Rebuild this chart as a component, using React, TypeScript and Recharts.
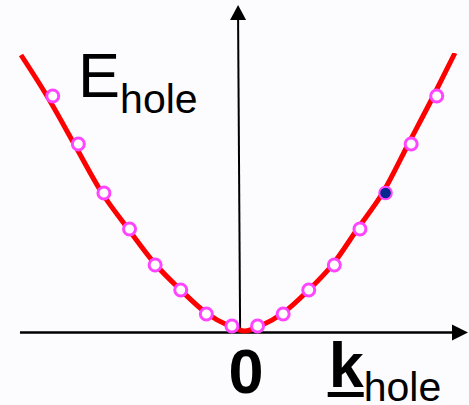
import {
  ComposedChart,
  XAxis,
  YAxis,
  Line,
  Scatter,
  ReferenceLine,
  ReferenceDot,
} from 'recharts';

// Hole band: k in units of the state spacing, E in arbitrary units
const curveK = [-8.74, -7.7, -6.66, -5.6, -4.55, -3.5, -2.5, -1.5, -0.6, 0, 0.6, 1.5, 2.5, 3.45, 4.4, 5.41, 6.39, 7.37, 8.21];
const curveE = [276, 234, 187, 139, 102, 67, 41, 18, 5, 0, 5, 18, 41, 67, 102, 139, 187, 235, 278];

// Allowed states sitting on the band
const stateK = [-7.5, -6.5, -5.5, -4.5, -3.5, -2.5, -1.5, -0.5, 0.5, 1.5, 2.5, 3.5, 4.5, 5.5, 6.5, 7.5];
const stateE = [235, 187, 138, 102, 66, 41, 17, 5, 5, 17, 41, 66, 102, 138, 187, 235];
const filledK = 5.5;

const K_DOMAIN = [-9.56, 8.76];
const E_DOMAIN = [-74, 331];

const W = 469;
const H = 405;
const RED = '#ff0000';
const MAGENTA = '#ff45ff';
const NAVY = '#082a8e';
const FONT = '"Liberation Sans", Arial, Helvetica, sans-serif';

const curve = curveK.map((k, i) => ({ k, E: curveE[i] }));
const states = stateK.map((k, i) => ({ k, E: stateE[i], filled: k === filledK }));

function StateDot(props: any) {
  const { cx, cy, payload } = props;
  if (payload.filled) {
    return <circle cx={cx} cy={cy} r={6.3} fill={NAVY} stroke={MAGENTA} strokeWidth={2} />;
  }
  return <circle cx={cx} cy={cy} r={6} fill="#ffffff" stroke={MAGENTA} strokeWidth={3} />;
}

const arrowUp = ({ cx, cy }: any) => (
  <polygon points={`${cx},${cy} ${cx - 8},${cy + 15} ${cx + 8},${cy + 15}`} fill="#000" />
);

const arrowRight = ({ cx, cy }: any) => (
  <polygon points={`${cx},${cy} ${cx - 16},${cy - 8} ${cx - 16},${cy + 8}`} fill="#000" />
);

const energyLabel = ({ cx, cy }: any) => (
  <text x={cx} y={cy} fontFamily={FONT} fill="#000">
    <tspan fontSize={63}>E</tspan>
    <tspan fontSize={41} dy={16}>hole</tspan>
  </text>
);

const zeroLabel = ({ cx, cy }: any) => (
  <text x={cx} y={cy} fontFamily={FONT} fontSize={63} fontWeight="bold" textAnchor="middle" fill="#000">
    0
  </text>
);

const momentumLabel = ({ cx, cy }: any) => (
  <g>
    <text x={cx} y={cy} fontFamily={FONT} fill="#000">
      <tspan fontSize={63} fontWeight="bold">k</tspan>
      <tspan fontSize={41} dy={14}>hole</tspan>
    </text>
    <rect x={cx - 1} y={cy + 5} width={36} height={5} fill="#000" />
  </g>
);

export default function App() {
  return (
    <div style={{ position: 'absolute', left: 0, top: 0, width: W, height: H, background: '#fcfbfe' }}>
      <ComposedChart width={W} height={H} margin={{ top: 0, right: 0, bottom: 0, left: 0 }}>
        <XAxis type="number" dataKey="k" domain={K_DOMAIN} hide allowDataOverflow />
        <YAxis type="number" dataKey="E" domain={E_DOMAIN} hide allowDataOverflow />

        {/* axes with arrowheads */}
        <ReferenceLine
          segment={[{ x: -8.78, y: -1.5 }, { x: 8.1, y: -1.5 }]}
          stroke="#000"
          strokeWidth={2.5}
        />
        <ReferenceLine
          segment={[{ x: -0.18, y: -1.5 }, { x: -0.26, y: 312 }]}
          stroke="#000"
          strokeWidth={2}
        />
        <ReferenceDot x={-0.26} y={326} r={1} shape={arrowUp} />
        <ReferenceDot x={8.72} y={-1.5} r={1} shape={arrowRight} />

        <Line
          data={curve}
          dataKey="E"
          type="monotone"
          stroke={RED}
          strokeWidth={5}
          dot={false}
          activeDot={false}
          isAnimationActive={false}
        />
        <Scatter data={states} dataKey="E" shape={<StateDot />} isAnimationActive={false} />

        <ReferenceDot x={-6.51} y={234} r={1} shape={energyLabel} />
        <ReferenceDot x={0.05} y={-62} r={1} shape={zeroLabel} />
        <ReferenceDot x={3.28} y={-56} r={1} shape={momentumLabel} />
      </ComposedChart>
    </div>
  );
}
